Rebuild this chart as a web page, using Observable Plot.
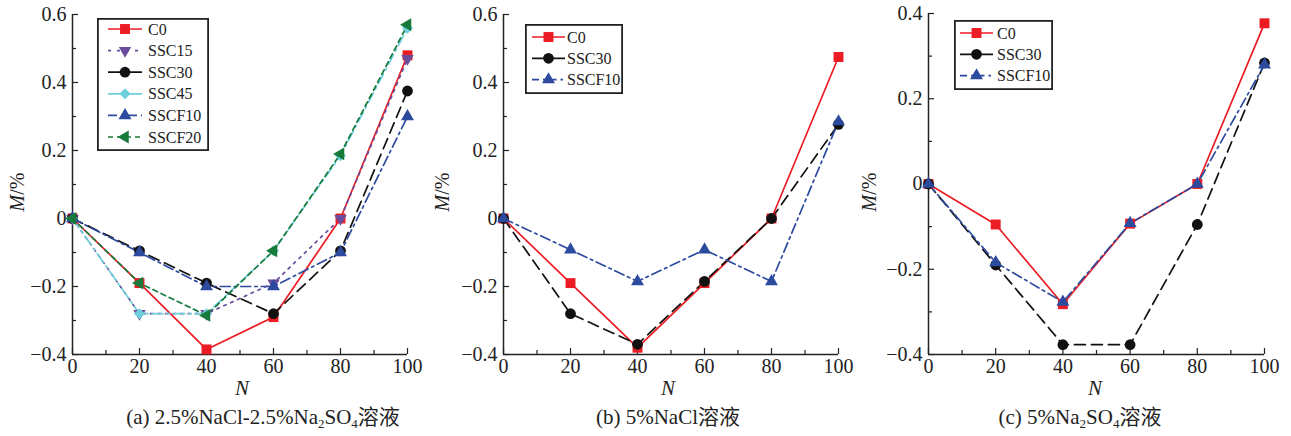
<!DOCTYPE html>
<html><head><meta charset="utf-8">
<script src="https://cdn.jsdelivr.net/npm/d3@7"></script>
<script src="https://cdn.jsdelivr.net/npm/@observablehq/plot@0.6"></script>
<style>
body{margin:0;background:#fff;font-family:"Liberation Serif","Times New Roman","Noto Sans CJK SC",serif;color:#222;}
#root{position:relative;width:1291px;height:436px;overflow:hidden;background:#fff;}
.abs{position:absolute;white-space:nowrap;}
.cap{font-size:21px;line-height:21px;}
.cap sub{font-size:13px;vertical-align:-4px;line-height:0;}
.nlab{font-size:21px;font-style:italic;font-weight:normal;line-height:20px;}
.ylab{font-size:20px;line-height:20px;transform:translate(-50%,-50%) rotate(-90deg);}
</style></head><body><div id="root"></div>
<script>
// ---------- data ----------
const N = [0, 20, 40, 60, 80, 100];

// panel (a): 2.5%NaCl-2.5%Na2SO4
const a_C0     = [0, -0.19, -0.385, -0.29, 0, 0.48];
const a_SSC15  = [0, -0.28, -0.28, -0.19, 0, 0.47];
const a_SSC30  = [0, -0.095, -0.19, -0.28, -0.095, 0.375];
const a_SSC45  = [0, -0.28, -0.28, -0.095, 0.185, 0.56];
const a_SSCF10 = [0, -0.1, -0.2, -0.2, -0.1, 0.3];
const a_SSCF20 = [0, -0.19, -0.285, -0.095, 0.19, 0.57];

// panel (b): 5%NaCl
const b_C0     = [0, -0.19, -0.38, -0.19, 0, 0.475];
const b_SSC30  = [0, -0.28, -0.37, -0.185, 0, 0.277];
const b_SSCF10 = [0, -0.092, -0.185, -0.092, -0.185, 0.285];

// panel (c): 5%Na2SO4
const c_C0     = [0, -0.095, -0.282, -0.093, 0, 0.377];
const c_SSC30  = [0, -0.19, -0.377, -0.377, -0.095, 0.284];
const c_SSCF10 = [0, -0.184, -0.277, -0.092, 0, 0.28];

const yTicksAB = [-0.4, -0.2, 0, 0.2, 0.4, 0.6];
const yMinorAB = [-0.3, -0.1, 0.1, 0.3, 0.5];
const yTicksC  = [-0.4, -0.2, 0, 0.2, 0.4];
const yMinorC  = [-0.3, -0.1, 0.1, 0.3];
const xTicks   = [0, 20, 40, 60, 80, 100];
const xMinor   = [10, 30, 50, 70, 90];

// ---------- custom symbols ----------
const triDown = {draw(ctx, size){const a=Math.sqrt(4*size/Math.sqrt(3)),h=a*Math.sqrt(3)/6;ctx.moveTo(-a/2,-h);ctx.lineTo(a/2,-h);ctx.lineTo(0,2*h);ctx.closePath();}};
const triLeft = {draw(ctx, size){const a=Math.sqrt(4*size/Math.sqrt(3)),h=a*Math.sqrt(3)/6;ctx.moveTo(-2*h,0);ctx.lineTo(h,-a/2);ctx.lineTo(h,a/2);ctx.closePath();}};
const triUp   = {draw(ctx, size){const a=Math.sqrt(4*size/Math.sqrt(3)),h=a*Math.sqrt(3)/6;ctx.moveTo(-a/2,h);ctx.lineTo(a/2,h);ctx.lineTo(0,-2*h);ctx.closePath();}};

const styles = {
  "C0":     {color:"#ec1c24", dash:null,          symbol:"square",   r:5.6},
  "SSC15":  {color:"#6a4c9c", dash:"2.5,5",       symbol:triDown,    r:4.6},
  "SSC30":  {color:"#111111", dash:"11,6",        symbol:"circle",   r:5.4},
  "SSC45":  {color:"#6fcfdc", dash:"11,4,2.5,4",  symbol:"diamond2", r:5.0},
  "SSCF10": {color:"#2c4a9e", dash:"10,4,2.5,4",  symbol:triUp,      r:4.8},
  "SSCF20": {color:"#17793a", dash:"5,4",         symbol:triLeft,    r:4.8}
};
const legendDash = {"C0":null,"SSC15":"3,6","SSC30":null,"SSC45":null,"SSCF10":"9,4,3,4","SSCF20":"5,4"};

const panels = [
  {id:"a", left:0,   width:430, ml:72, mr:23, mt:14, yDomain:[-0.4,0.6], yTicks:yTicksAB, yMinor:yMinorAB,
   series:{"C0":a_C0,"SSC15":a_SSC15,"SSC30":a_SSC30,"SSC45":a_SSC45,"SSCF10":a_SSCF10,"SSCF20":a_SSCF20},
   legend:{x:97,y:18,w:112,h:133,row0:11,rowH:21.6,lx1:11,lx2:45,tx:51},
   caption:'(a) 2.5%NaCl-2.5%Na<sub>2</sub>SO<sub>4</sub>溶液', capX:263, nX:242, yX:17},
  {id:"b", left:430, width:430, ml:73, mr:22, mt:14, yDomain:[-0.4,0.6], yTicks:yTicksAB, yMinor:yMinorAB,
   series:{"C0":b_C0,"SSC30":b_SSC30,"SSCF10":b_SSCF10},
   legend:{x:525,y:24,w:98,h:70,row0:13,rowH:21.3,lx1:7,lx2:40,tx:42},
   caption:'(b) 5%NaCl溶液', capX:668, nX:668, yX:442},
  {id:"c", left:860, width:431, ml:68, mr:27, mt:13, yDomain:[-0.4,0.4], yTicks:yTicksC, yMinor:yMinorC,
   series:{"C0":c_C0,"SSC30":c_SSC30,"SSCF10":c_SSCF10},
   legend:{x:954,y:20,w:99,h:70,row0:13,rowH:21.3,lx1:6,lx2:39,tx:43},
   caption:'(c) 5%Na<sub>2</sub>SO<sub>4</sub>溶液', capX:1080, nX:1095, yX:869}
];

const root = document.getElementById("root");
const fmt = d => d === 0 ? "0" : d.toFixed(1).replace("-", "\u2212");

for (const p of panels) {
  const rows = [];
  for (const [name, vals] of Object.entries(p.series)) {
    vals.forEach((v, i) => rows.push({series:name, N:N[i], M:v}));
  }
  const marks = [
    Plot.ruleX([0], {stroke:"#222", strokeWidth:1.5}),
    Plot.ruleY([p.yDomain[0]], {stroke:"#222", strokeWidth:1.5}),
    Plot.axisY(p.yTicks, {tickSize:-6, tickPadding:12, tickFormat:fmt, fontSize:20, label:null, stroke:"#222", strokeWidth:1.2}),
    Plot.axisY(p.yMinor, {tickSize:-4, tickFormat:()=>"", label:null, stroke:"#222", strokeWidth:1.2}),
    Plot.axisX(xTicks, {tickSize:-6, tickPadding:10, tickFormat:d=>String(d), fontSize:20, label:null, stroke:"#222", strokeWidth:1.2}),
    Plot.axisX(xMinor, {tickSize:-4, tickFormat:()=>"", label:null, stroke:"#222", strokeWidth:1.2})
  ];
  for (const name of Object.keys(p.series)) {
    const st = styles[name];
    const d = rows.filter(r => r.series === name);
    marks.push(Plot.line(d, {x:"N", y:"M", stroke:st.color, strokeWidth:1.7, strokeDasharray:st.dash}));
  }
  for (const name of Object.keys(p.series)) {
    const st = styles[name];
    const d = rows.filter(r => r.series === name);
    marks.push(Plot.dot(d, {x:"N", y:"M", symbol:st.symbol, r:st.r, fill:st.color, stroke:"none"}));
  }
  const chart = Plot.plot({
    width:p.width, height:380,
    marginLeft:p.ml, marginRight:p.mr, marginTop:p.mt, marginBottom:26,
    x:{domain:[0,100]},
    y:{domain:p.yDomain},
    style:{fontFamily:'"Liberation Serif","Times New Roman",serif', fontSize:"20px", color:"#222", background:"transparent", overflow:"visible"},
    marks
  });
  const holder = document.createElement("div");
  holder.className = "abs";
  holder.style.left = p.left + "px";
  holder.style.top = "0px";
  holder.appendChild(chart);
  root.appendChild(holder);

  const nl = document.createElement("div");
  nl.className = "abs nlab"; nl.innerHTML = "N";
  nl.style.left = p.nX + "px"; nl.style.top = "378px"; nl.style.transform = "translateX(-50%)";
  root.appendChild(nl);
  const yl = document.createElement("div");
  yl.className = "abs ylab"; yl.innerHTML = "<i>M</i>/%";
  yl.style.left = p.yX + "px"; yl.style.top = "192px";
  root.appendChild(yl);
  const cap = document.createElement("div");
  cap.className = "abs cap"; cap.innerHTML = p.caption;
  cap.style.left = p.capX + "px"; cap.style.top = "407px"; cap.style.transform = "translateX(-50%)";
  root.appendChild(cap);

  const L = p.legend;
  const svg = d3.select(root).append("svg").attr("class","abs")
    .style("left", L.x + "px").style("top", L.y + "px")
    .attr("width", L.w).attr("height", L.h);
  svg.append("rect").attr("x",0.9).attr("y",0.9).attr("width",L.w-1.8).attr("height",L.h-1.8)
    .attr("fill","#fff").attr("stroke","#222").attr("stroke-width",1.8);
  Object.keys(p.series).forEach((name, i) => {
    const st = styles[name];
    const cy = L.row0 + i * L.rowH;
    const ld = p.id === "a" ? legendDash[name] : (name === "SSCF10" ? "7,4,2.5,4" : null);
    svg.append("line").attr("x1",L.lx1).attr("x2",L.lx2).attr("y1",cy).attr("y2",cy)
      .attr("stroke",st.color).attr("stroke-width",1.7).attr("stroke-dasharray",ld);
    const typ = typeof st.symbol === "string"
      ? {square:d3.symbolSquare, circle:d3.symbolCircle, diamond2:d3.symbolDiamond2}[st.symbol]
      : st.symbol;
    svg.append("path").attr("transform",`translate(${(L.lx1+L.lx2)/2},${cy})`)
      .attr("d", d3.symbol().type(typ).size(Math.PI*st.r*st.r)()).attr("fill",st.color);
    svg.append("text").attr("x",L.tx).attr("y",cy).attr("dy","0.35em")
      .attr("font-size",16).attr("font-family",'"Liberation Serif","Times New Roman",serif')
      .attr("fill","#222").text(name);
  });
}
</script>
</body></html>
